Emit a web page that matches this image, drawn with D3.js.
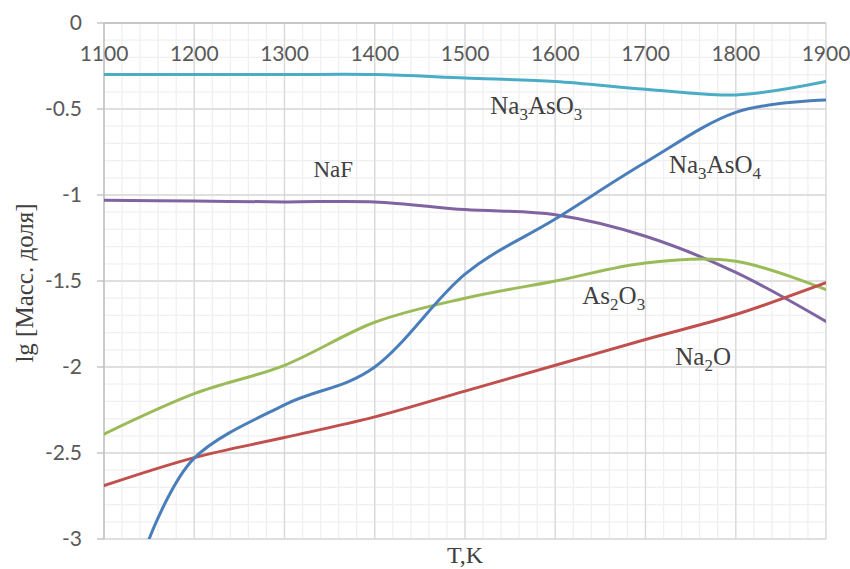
<!DOCTYPE html>
<html>
<head>
<meta charset="utf-8">
<script src="https://cdn.jsdelivr.net/npm/d3@7"></script>
<style>
  body { margin: 0; background: #fff; }
  .tick-label { font-family: Lato, "Open Sans", sans-serif; font-size: 21px; fill: #595959; }
  .serif { font-family: "Liberation Serif", "DejaVu Serif", serif; fill: #404040; }
</style>
</head>
<body>
<svg id="chart" width="850" height="569"></svg>
<script>
// Temperatures, K
const temps = [1100, 1200, 1300, 1400, 1500, 1600, 1700, 1800, 1900];

// lg of mass fraction per species
const na3aso3 = [-0.30, -0.30, -0.30, -0.30, -0.32, -0.34, -0.385, -0.418, -0.34];
const naf = [-1.03, -1.035, -1.04, -1.04, -1.085, -1.115, -1.24, -1.45, -1.735];
const as2o3 = [-2.39, -2.155, -1.99, -1.74, -1.60, -1.50, -1.395, -1.385, -1.55];
const na2o = [-2.69, -2.527, -2.41, -2.29, -2.14, -1.99, -1.84, -1.695, -1.51];
// Na3AsO4 starts at 1150 K (below that it is off the axis)
const na3aso4T = [1150, 1200, 1300, 1400, 1500, 1600, 1700, 1800, 1900];
const na3aso4 = [-3.0, -2.53, -2.22, -2.0, -1.46, -1.14, -0.81, -0.52, -0.447];

const xTicks = [1100, 1200, 1300, 1400, 1500, 1600, 1700, 1800, 1900];
const yTicks = [0, -0.5, -1, -1.5, -2, -2.5, -3];

const series = [
  { name: "Na_3AsO_3", t: temps, v: na3aso3, color: "#4BACC6", lx: 1528, ly: -0.529, size: 25 },
  { name: "NaF", t: temps, v: naf, color: "#8064A2", lx: 1332, ly: -0.895, size: 23 },
  { name: "As_2O_3", t: temps, v: as2o3, color: "#9BBB59", lx: 1630, ly: -1.633, size: 25 },
  { name: "Na_2O", t: temps, v: na2o, color: "#C0504D", lx: 1733, ly: -1.988, size: 25 },
  { name: "Na_3AsO_4", t: na3aso4T, v: na3aso4, color: "#4A7EBB", lx: 1726, ly: -0.872, size: 25 },
];

const svg = d3.select("#chart");
const x = d3.scaleLinear().domain([1100, 1900]).range([104, 826]);
const y = d3.scaleLinear().domain([-3, 0]).range([539, 23]);

// minor grid
svg.append("g")
  .selectAll("line")
  .data(d3.range(1100, 1901, 20))
  .join("line")
  .attr("x1", (d) => x(d)).attr("x2", (d) => x(d))
  .attr("y1", y(0)).attr("y2", y(-3))
  .attr("stroke", "#f0f0f0").attr("stroke-width", 1.3);
svg.append("g")
  .selectAll("line")
  .data(d3.range(0, 31).map((i) => -i / 10))
  .join("line")
  .attr("x1", x(1100)).attr("x2", x(1900))
  .attr("y1", (d) => y(d)).attr("y2", (d) => y(d))
  .attr("stroke", "#f0f0f0").attr("stroke-width", 1.3);

// major grid
svg.append("g")
  .selectAll("line")
  .data(xTicks)
  .join("line")
  .attr("x1", (d) => x(d)).attr("x2", (d) => x(d))
  .attr("y1", y(0)).attr("y2", y(-3))
  .attr("stroke", "#d9d9d9").attr("stroke-width", 1.3);
svg.append("g")
  .selectAll("line")
  .data(yTicks)
  .join("line")
  .attr("x1", x(1100)).attr("x2", x(1900))
  .attr("y1", (d) => y(d)).attr("y2", (d) => y(d))
  .attr("stroke", "#d9d9d9").attr("stroke-width", 1.3);

// axes lines + y tick marks
svg.append("line")
  .attr("x1", x(1100)).attr("x2", x(1100))
  .attr("y1", y(0)).attr("y2", y(-3))
  .attr("stroke", "#bfbfbf").attr("stroke-width", 1.3);
svg.append("line")
  .attr("x1", x(1100)).attr("x2", x(1900))
  .attr("y1", y(0)).attr("y2", y(0))
  .attr("stroke", "#bfbfbf").attr("stroke-width", 1.3);
svg.append("g")
  .selectAll("line")
  .data(yTicks)
  .join("line")
  .attr("x1", x(1100) - 7).attr("x2", x(1100))
  .attr("y1", (d) => y(d)).attr("y2", (d) => y(d))
  .attr("stroke", "#bfbfbf").attr("stroke-width", 1.3);

// tick labels
svg.append("g")
  .selectAll("text")
  .data(xTicks)
  .join("text")
  .attr("class", "tick-label")
  .attr("x", (d) => x(d))
  .attr("y", y(0) + 38)
  .attr("text-anchor", "middle")
  .text((d) => d);
svg.append("g")
  .selectAll("text")
  .data(yTicks)
  .join("text")
  .attr("class", "tick-label")
  .attr("x", x(1100) - 22)
  .attr("y", (d) => y(d) + 7)
  .attr("text-anchor", "end")
  .text((d) => d);

// series lines
svg.append("clipPath").attr("id", "plot-clip")
  .append("rect")
  .attr("x", x(1100)).attr("y", y(0))
  .attr("width", x(1900) - x(1100)).attr("height", y(-3) - y(0));

const line = d3.line()
  .x((d) => x(d[0]))
  .y((d) => y(d[1]))
  .curve(d3.curveCatmullRom.alpha(0));

svg.append("g")
  .attr("clip-path", "url(#plot-clip)")
  .selectAll("path")
  .data(series)
  .join("path")
  .attr("d", (s) => line(s.t.map((t, i) => [t, s.v[i]])))
  .attr("fill", "none")
  .attr("stroke", (s) => s.color)
  .attr("stroke-width", 3)
  .attr("stroke-linecap", "round");

// in-plot labels with subscripts ("_" marks the next char as subscript)
function addFormula(sel, s) {
  const txt = sel.append("text")
    .attr("class", "serif")
    .attr("x", x(s.lx))
    .attr("y", y(s.ly))
    .attr("font-size", s.size);
  const parts = s.name.split("_");
  txt.append("tspan").text(parts[0]);
  for (let i = 1; i < parts.length; i++) {
    txt.append("tspan").attr("dy", 6).attr("font-size", s.size * 0.68).text(parts[i][0]);
    if (parts[i].length > 1) {
      txt.append("tspan").attr("dy", -6).text(parts[i].slice(1));
    }
  }
}
const labels = svg.append("g");
series.forEach((s) => addFormula(labels, s));

// axis titles
svg.append("text")
  .attr("class", "serif")
  .attr("x", (x(1100) + x(1900)) / 2)
  .attr("y", 563)
  .attr("text-anchor", "middle")
  .attr("font-size", 24)
  .text("T,K");
svg.append("text")
  .attr("class", "serif")
  .attr("transform", `translate(33, ${(y(0) + y(-3)) / 2 + 2}) rotate(-90)`)
  .attr("text-anchor", "middle")
  .attr("font-size", 25)
  .text("lg [Масс. доля]");
</script>
</body>
</html>
